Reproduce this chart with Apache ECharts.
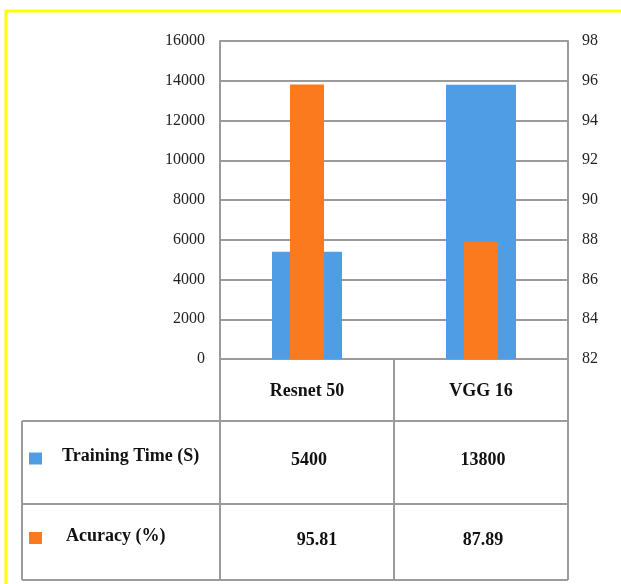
<!DOCTYPE html>
<html>
<head>
<meta charset="utf-8">
<script src="https://cdn.jsdelivr.net/npm/echarts@6/dist/echarts.min.js"></script>
<style>
  html, body { margin: 0; padding: 0; background: #fff; }
  #chart { width: 621px; height: 584px; }
</style>
</head>
<body>
<div id="chart"></div>
<script>
// data
const categories = ['Resnet 50', 'VGG 16']
const seriesNames = ['Training Time (S)', 'Acuracy (%)']
const trainingTime = [5400, 13800]
const accuracy = [95.81, 87.89]
const timeAxis = { min: 0, max: 16000, interval: 2000 }
const accAxis = { min: 82, max: 98, interval: 2 }

const blue = '#4f9ee5'
const orange = '#fb7a1d'
const lineGray = '#9b9b9b'
const serif = '"Liberation Serif", "DejaVu Serif", serif'

const chart = echarts.init(document.getElementById('chart'))

const option = {
  animation: false,
  grid: { left: 220, right: 53, top: 41, bottom: 225 },
  xAxis: [
    {
      type: 'category',
      data: categories,
      axisLine: { show: true, lineStyle: { color: lineGray, width: 2 } },
      axisTick: { show: true, length: 63, lineStyle: { color: lineGray, width: 2 } },
      axisLabel: {
        margin: 23,
        color: '#111',
        fontFamily: serif,
        fontWeight: 'bold',
        fontSize: 18
      }
    },
    { type: 'category', data: categories, show: false }
  ],
  yAxis: [
    {
      type: 'value',
      position: 'left',
      min: timeAxis.min,
      max: timeAxis.max,
      interval: timeAxis.interval,
      axisLine: { show: true, lineStyle: { color: lineGray, width: 2 } },
      axisTick: { show: false },
      axisLabel: {
        margin: 15,
        color: '#222',
        fontFamily: serif,
        fontSize: 16,
        formatter: v => String(v)
      },
      splitLine: { show: true, lineStyle: { color: lineGray, width: 2 } }
    },
    {
      type: 'value',
      position: 'right',
      min: accAxis.min,
      max: accAxis.max,
      interval: accAxis.interval,
      axisLine: { show: true, lineStyle: { color: lineGray, width: 2 } },
      axisTick: { show: false },
      axisLabel: { margin: 14, color: '#222', fontFamily: serif, fontSize: 16 },
      splitLine: { show: false }
    }
  ],
  series: [
    {
      name: seriesNames[0],
      type: 'bar',
      xAxisIndex: 0,
      yAxisIndex: 0,
      barWidth: 70,
      itemStyle: { color: blue },
      data: trainingTime
    },
    {
      name: seriesNames[1],
      type: 'bar',
      xAxisIndex: 1,
      yAxisIndex: 1,
      barWidth: 34,
      z: 3,
      itemStyle: { color: orange },
      data: accuracy
    }
  ]
}

chart.setOption(option)

// 数据表格（图下方）
function drawTable() {
  const colX = categories.map(c => chart.convertToPixel({ xAxisIndex: 0 }, c))
  const tableLeft = 22
  const plotLeft = 220
  const plotRight = 568
  const mid = (colX[0] + colX[1]) / 2
  const rows = [421, 504, 580]
  const rowVals = [trainingTime, accuracy]
  const rowColors = [blue, orange]
  const els = []

  // 黄色外框
  els.push({
    type: 'rect',
    shape: { x: 6, y: 11, width: 700, height: 700 },
    style: { fill: 'none', stroke: '#ffff00', lineWidth: 3 }
  })

  // 横线
  rows.forEach(y => {
    els.push({
      type: 'line',
      shape: { x1: tableLeft, y1: y, x2: plotRight, y2: y },
      style: { stroke: lineGray, lineWidth: 2 }
    })
  })
  // 竖线
  ;[tableLeft, plotLeft, mid, plotRight].forEach(x => {
    els.push({
      type: 'line',
      shape: { x1: x, y1: rows[0], x2: x, y2: rows[2] },
      style: { stroke: lineGray, lineWidth: 2 }
    })
  })

  rowVals.forEach((vals, i) => {
    const cy = (rows[i] + rows[i + 1]) / 2 - 4
    els.push({
      type: 'rect',
      shape: { x: 29, y: cy - 6, width: 13, height: 12 },
      style: { fill: rowColors[i] }
    })
    els.push({
      type: 'text',
      x: i === 0 ? 62 : 66,
      y: cy - 2,
      style: {
        text: seriesNames[i],
        font: 'bold 18px ' + serif,
        fill: '#111',
        verticalAlign: 'middle'
      }
    })
    vals.forEach((v, j) => {
      els.push({
        type: 'text',
        x: colX[j] + (i === 1 && j === 0 ? 10 : 2),
        y: cy + 2,
        style: {
          text: String(v),
          font: 'bold 18px ' + serif,
          fill: '#111',
          align: 'center',
          verticalAlign: 'middle'
        }
      })
    })
  })

  chart.setOption({ graphic: { elements: els } })
}

drawTable()
</script>
</body>
</html>
